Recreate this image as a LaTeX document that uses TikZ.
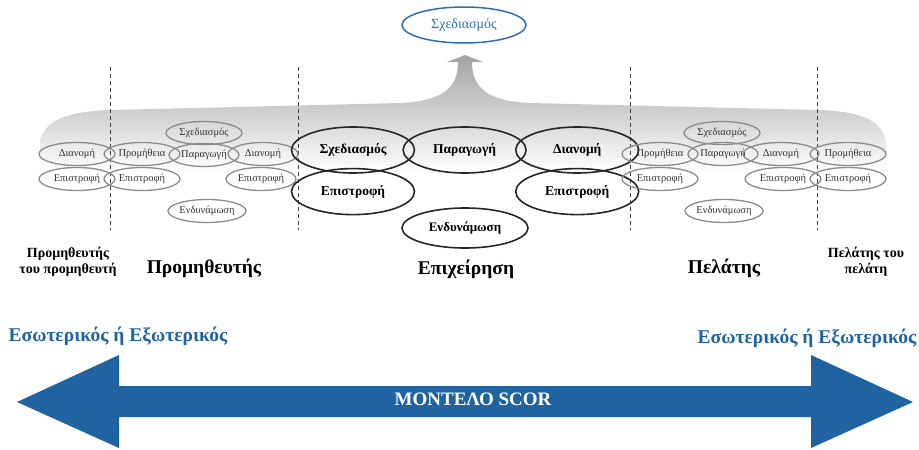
\documentclass[tikz,border=0pt]{standalone}
\usepackage{fontspec}
\setmainfont{Liberation Serif}
\usepackage{tikz}
\usetikzlibrary{shapes.geometric, positioning}
\definecolor{scor-blue}{RGB}{31, 100, 160}
\definecolor{scor-lblue}{RGB}{46, 112, 176}
\definecolor{scor-gray}{RGB}{140, 140, 140}

\begin{document}
\begin{tikzpicture}[x=1pt, y=-1pt,
    big/.style={ellipse, draw=black!85, line width=1.6pt, inner sep=0pt,
                minimum width=123pt, minimum height=46pt,
                font=\fontsize{13.5}{15}\selectfont\bfseries},
    small/.style={ellipse, draw=scor-gray, line width=1.3pt, inner sep=0pt,
                  minimum width=76pt, minimum height=23pt,
                  font=\fontsize{10.5}{12}\selectfont, text=black!80},
    narrow/.style={small, minimum width=70pt},
    party/.style={font=\fontsize{19.5}{22}\selectfont\bfseries},
    outer/.style={align=center, font=\fontsize{14}{16.5}\selectfont\bfseries},
    side/.style={text=scor-blue, font=\fontsize{19.5}{22}\selectfont\bfseries},
    sep/.style={dashed, dash pattern=on 4pt off 3pt, line width=0.9pt, black!75}
  ]
    \useasboundingbox (0,0) rectangle (919,450);

    % grey band rising into the upward arrow
    \shade[top color=black!36, bottom color=white]
      (40,172) -- (40,142) .. controls (44,122) and (62,112) .. (110,110)
      -- (400,103) .. controls (440,101) and (458,90) .. (458,62)
      -- (447,62) -- (465,55) -- (483,62) -- (472,62)
      .. controls (472,90) and (490,101) .. (530,103)
      -- (820,110) .. controls (866,112) and (882,122) .. (886,142)
      -- (886,172) -- cycle;

    \node[ellipse, draw=scor-lblue, line width=1.5pt, minimum width=124pt,
          minimum height=36pt, inner sep=0pt, text=scor-lblue,
          font=\fontsize{14}{16}\selectfont] (top) at (464,25) {Σχεδιασμός};

    % boundaries between the chain members
    \foreach \x in {110, 298, 630, 817}
      \draw[sep] (\x,67) -- (\x,230);

    % supplier's supplier and supplier
    \node[small] (d1) at (77,154) {Διανομή};
    \node[small] (e1) at (77,179) {Επιστροφή};
    \node[small] (p1) at (142,154) {Προμήθεια};
    \node[small] (e2) at (142,179) {Επιστροφή};
    \node[small] (s1) at (204,133) {Σχεδιασμός};
    \node[narrow] (g1) at (204,155) {Παραγωγή};
    \node[narrow] (n1) at (207,211) {Ενδυνάμωση};
    \node[narrow] (d2) at (263,154) {Διανομή};
    \node[narrow] (e3) at (261,179) {Επιστροφή};

    % the company
    \node[big] (s) at (353,150) {Σχεδιασμός};
    \node[big, right=-13pt of s] (p) {Παραγωγή};
    \node[big, right=-12pt of p] (d) {Διανομή};
    \node[big, below=-6pt of s] (es) {Επιστροφή};
    \node[big, below=-6pt of d] (ed) {Επιστροφή};
    \node[big, minimum width=126pt, minimum height=40pt,
          font=\fontsize{13}{15}\selectfont\bfseries] (n) at (465,228) {Ενδυνάμωση};

    % customer and customer's customer
    \node[small] (p3) at (660,154) {Προμήθεια};
    \node[small] (e4) at (660,179) {Επιστροφή};
    \node[small] (s2) at (722,133) {Σχεδιασμός};
    \node[narrow] (g2) at (723,154) {Παραγωγή};
    \node[narrow] (n2) at (724,211) {Ενδυνάμωση};
    \node[small] (d3) at (781,154) {Διανομή};
    \node[small] (e5) at (783,179) {Επιστροφή};
    \node[small] (p4) at (848,154) {Προμήθεια};
    \node[small] (e6) at (848,179) {Επιστροφή};

    % chain members
    \node[outer] (ss) at (68,262) {Προμηθευτής\\του προμηθευτή};
    \node[party] (sup) at (204,268) {Προμηθευτής};
    \node[party] (co)  at (466,269) {Επιχείρηση};
    \node[party] (cu)  at (724,268) {Πελάτης};
    \node[outer] (cc) at (866,262) {Πελάτης του\\πελάτη};

    \node[side] (il) at (118,336) {Εσωτερικός ή Εξωτερικός};
    \node[side] (ir) at (807,338) {Εσωτερικός ή Εξωτερικός};

    % double arrow along the chain
    \fill[scor-blue] (17,402) -- (119,355) -- (119,386) -- (811,386)
      -- (811,355) -- (913,402) -- (811,448) -- (811,417)
      -- (119,417) -- (119,448) -- cycle;
    \node[text=white, font=\fontsize{19}{21}\selectfont\bfseries] (scor)
      at (473,399) {ΜΟΝΤΕΛΟ SCOR};
  \end{tikzpicture}
\end{document}
